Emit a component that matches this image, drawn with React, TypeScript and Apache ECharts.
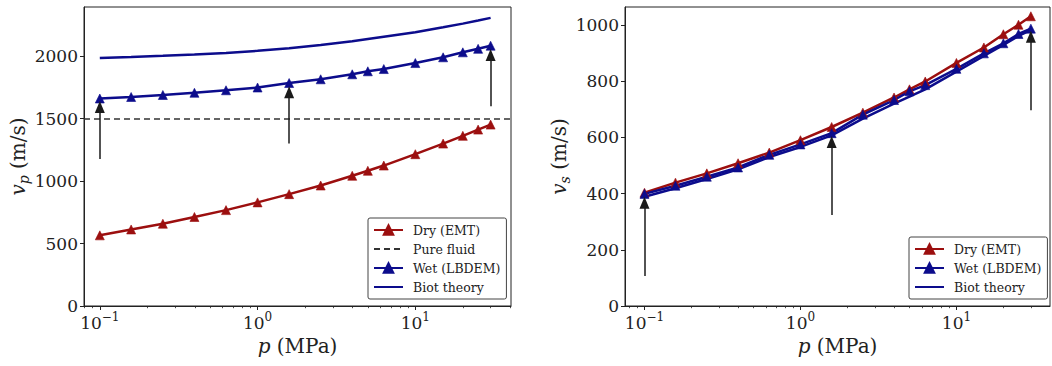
import React, { useEffect, useRef } from 'react';
import * as echarts from 'echarts';

// Pressure (MPa) at which velocities were computed
const pressure = [0.1, 0.158, 0.251, 0.398, 0.631, 1.0, 1.585, 2.512, 3.981, 5.0, 6.31, 10, 15, 20, 25, 30];

// P-wave velocity (m/s)
const vpDry = [566, 613, 659, 713, 768, 830, 896, 965, 1043, 1083, 1125, 1216, 1301, 1363, 1413, 1453];
const vpWet = [1662, 1674, 1690, 1708, 1728, 1750, 1786, 1816, 1856, 1880, 1898, 1946, 1992, 2032, 2060, 2085];
const vpBiot = [1987, 1995, 2004, 2014, 2027, 2044, 2064, 2090, 2120, 2138, 2156, 2192, 2232, 2262, 2287, 2308];
const vpFluid = 1500;

// S-wave velocity (m/s)
const vsDry = [403, 439, 472, 508, 546, 590, 637, 688, 742, 771, 799, 865, 920, 967, 1001, 1031];
const vsWet = [399, 428, 460, 493, 538, 575, 615, 681, 733, 764, 786, 844, 899, 935, 968, 987];
const vsBiot = [389, 419, 452, 486, 530, 566, 607, 667, 720, 745, 771, 834, 890, 929, 961, 982];

// Annotation arrows (pressure, start velocity, head velocity)
const vpArrowP = [0.1, 1.585, 30];
const vpArrowFrom = [1178, 1301, 1600];
const vpArrowTo = [1594, 1712, 2011];
const vsArrowP = [0.1, 1.585, 30];
const vsArrowFrom = [107, 324, 697];
const vsArrowTo = [367, 584, 958];

// Tick values
const xMajorTicks = [0.1, 1, 10];
const xMinorTicksLeft = [0.08, 0.09, 0.2, 0.3, 0.4, 0.5, 0.6, 0.7, 0.8, 0.9, 2, 3, 4, 5, 6, 7, 8, 9, 20, 30, 40];
const xMinorTicksRight = [0.08, 0.09, 0.2, 0.3, 0.4, 0.5, 0.6, 0.7, 0.8, 0.9, 2, 3, 4, 5, 6, 7, 8, 9, 20, 30];
const vpTicks = [0, 500, 1000, 1500, 2000];
const vsTicks = [0, 200, 400, 600, 800, 1000];

const legendLeft = ['Dry (EMT)', 'Pure fluid', 'Wet (LBDEM)', 'Biot theory'];
const legendRight = ['Dry (EMT)', 'Wet (LBDEM)', 'Biot theory'];
const legendNoMarker = ['Pure fluid', 'Biot theory'];

const FONT = 'DejaVu Serif';
const DRY = '#9c0f0f';
const BLUE = '#0c0c8c';
const INK = '#222';

const pairs = (ys: number[]) => pressure.map((p, i) => [p, ys[i]]);

const xLabelRich = {
  b: { fontFamily: FONT, fontSize: 17, color: INK, verticalAlign: 'bottom' },
  s: { fontFamily: FONT, fontSize: 12, color: INK, verticalAlign: 'bottom', padding: [0, 0, 8, 0] },
};

const xFormatter = (v: number) => {
  const e = Math.round(Math.log10(v));
  return `{b|10}{s|${e < 0 ? '\u2212' + -e : e}}`;
};

const nameRich = {
  i: { fontFamily: FONT, fontSize: 20, fontStyle: 'italic', color: INK, verticalAlign: 'bottom', padding: [0, 0, 3, 0] },
  n: { fontFamily: FONT, fontSize: 20, color: INK, verticalAlign: 'bottom', padding: [0, 0, 3, 0] },
  s: { fontFamily: FONT, fontSize: 14, fontStyle: 'italic', color: INK, verticalAlign: 'bottom' },
};

function mainX(gridIndex: number, min: number, max: number) {
  return {
    type: 'log',
    logBase: 10,
    gridIndex,
    min,
    max,
    position: 'bottom',
    axisLine: { show: true, lineStyle: { color: INK, width: 1 } },
    axisTick: { show: true, length: 4, customValues: xMajorTicks, lineStyle: { color: INK, width: 1 } },
    axisLabel: { customValues: xMajorTicks, formatter: xFormatter, rich: xLabelRich, margin: 5, fontFamily: FONT },
    splitLine: { show: false },
    minorTick: { show: false },
    name: '{i|p} {n|(MPa)}',
    nameLocation: 'middle',
    nameGap: 27,
    nameTextStyle: { fontFamily: FONT, fontSize: 20, rich: nameRich },
  };
}

function minorX(gridIndex: number, min: number, max: number, ticks: number[]) {
  return {
    type: 'log',
    logBase: 10,
    gridIndex,
    min,
    max,
    position: 'bottom',
    offset: 0,
    axisLine: { show: false },
    axisTick: { show: true, length: 2.2, customValues: ticks, lineStyle: { color: INK, width: 0.8 } },
    axisLabel: { show: false },
    splitLine: { show: false },
  };
}

function mainY(gridIndex: number, max: number, interval: number, ticks: number[], sub: string) {
  return {
    type: 'value',
    gridIndex,
    min: 0,
    max,
    interval,
    axisLine: { show: true, lineStyle: { color: INK, width: 1 } },
    axisTick: { show: true, length: 4, customValues: ticks, lineStyle: { color: INK, width: 1 } },
    axisLabel: {
      customValues: ticks,
      fontFamily: FONT,
      fontSize: 17,
      color: INK,
      margin: 6,
      formatter: (v: number) => String(v),
    },
    splitLine: { show: false },
    name: `{i|v}{s|${sub}}{n| (m/s)}`,
    nameLocation: 'middle',
    nameGap: 51,
    nameTextStyle: { fontFamily: FONT, fontSize: 20, rich: nameRich },
  };
}

function legend(left: number, top: number, data: string[]) {
  return {
    left,
    top,
    orient: 'vertical',
    data: data.map((name) =>
      legendNoMarker.includes(name)
        ? { name, itemStyle: { opacity: 0, color: 'transparent', borderWidth: 0 } }
        : { name }
    ),
    selectedMode: false,
    backgroundColor: '#fff',
    borderColor: '#444',
    borderWidth: 1,
    borderRadius: 2,
    padding: [5, 6, 5, 5],
    itemGap: 5,
    itemWidth: 29,
    itemHeight: 12,
    textStyle: { fontFamily: FONT, fontSize: 12.5, color: INK, lineHeight: 14, padding: [0, 0, 0, 5] },
  };
}

function arrows(xi: number, yi: number, ps: number[], from: number[], to: number[]) {
  return {
    type: 'line',
    name: 'arrows' + xi,
    xAxisIndex: xi,
    yAxisIndex: yi,
    data: [],
    z: 6,
    markLine: {
      silent: true,
      animation: false,
      symbol: ['none', 'triangle'],
      symbolSize: [10, 12],
      label: { show: false },
      emphasis: { disabled: true },
      lineStyle: { color: '#1a1a1a', width: 1.5, type: 'solid' },
      data: ps.map((p, i) => [{ coord: [p, from[i]] }, { coord: [p, to[i]] }]),
    },
  };
}

function curve(name: string, xi: number, yi: number, ys: number[], color: string, markers: boolean) {
  return {
    type: 'line',
    name,
    xAxisIndex: xi,
    yAxisIndex: yi,
    data: pairs(ys),
    symbol: markers ? 'triangle' : 'none',
    symbolSize: 9,
    showSymbol: markers,
    lineStyle: { color, width: 2.5 },
    itemStyle: { color, borderColor: color, borderWidth: 0.6 },
    emphasis: { disabled: true },
    z: 3,
  };
}

const option = {
  animation: false,
  backgroundColor: '#fff',
  textStyle: { fontFamily: FONT },
  grid: [
    { left: 84, top: 7, width: 427, height: 299, show: true, borderColor: INK, borderWidth: 1, backgroundColor: 'transparent' },
    { left: 625, top: 7, width: 425, height: 299, show: true, borderColor: INK, borderWidth: 1, backgroundColor: 'transparent' },
  ],
  xAxis: [
    mainX(0, 0.0794, 40.4),
    minorX(0, 0.0794, 40.4, xMinorTicksLeft),
    mainX(1, 0.075, 39.8),
    minorX(1, 0.075, 39.8, xMinorTicksRight),
  ],
  yAxis: [mainY(0, 2395, 500, vpTicks, 'p'), mainY(1, 1064, 200, vsTicks, 's')],
  legend: [legend(368, 218, legendLeft), legend(909, 237, legendRight)],
  series: [
    curve('Dry (EMT)', 0, 0, vpDry, DRY, true),
    {
      type: 'line',
      name: 'Pure fluid',
      xAxisIndex: 0,
      yAxisIndex: 0,
      data: [],
      symbol: 'none',
      lineStyle: { color: '#333', width: 1.5, type: [6, 4] },
      itemStyle: { color: '#333' },
      markLine: {
        silent: true,
        symbol: ['none', 'none'],
        label: { show: false },
        emphasis: { disabled: true },
        lineStyle: { color: '#333', width: 1.5, type: [6, 4] },
        data: [{ yAxis: vpFluid }],
      },
    },
    curve('Wet (LBDEM)', 0, 0, vpWet, BLUE, true),
    curve('Biot theory', 0, 0, vpBiot, BLUE, false),
    arrows(0, 0, vpArrowP, vpArrowFrom, vpArrowTo),
    curve('Dry (EMT)', 2, 1, vsDry, DRY, true),
    curve('Wet (LBDEM)', 2, 1, vsWet, BLUE, true),
    curve('Biot theory', 2, 1, vsBiot, BLUE, false),
    arrows(2, 1, vsArrowP, vsArrowFrom, vsArrowTo),
  ],
};

export default function App() {
  const ref = useRef<HTMLDivElement>(null);
  useEffect(() => {
    if (!ref.current) return;
    const chart = echarts.init(ref.current, null, { renderer: 'svg' });
    chart.setOption(option as any);
    return () => chart.dispose();
  }, []);
  return (
    <div
      ref={ref}
      style={{ position: 'fixed', left: 0, top: 0, width: 1052, height: 366, background: '#fff' }}
    />
  );
}
